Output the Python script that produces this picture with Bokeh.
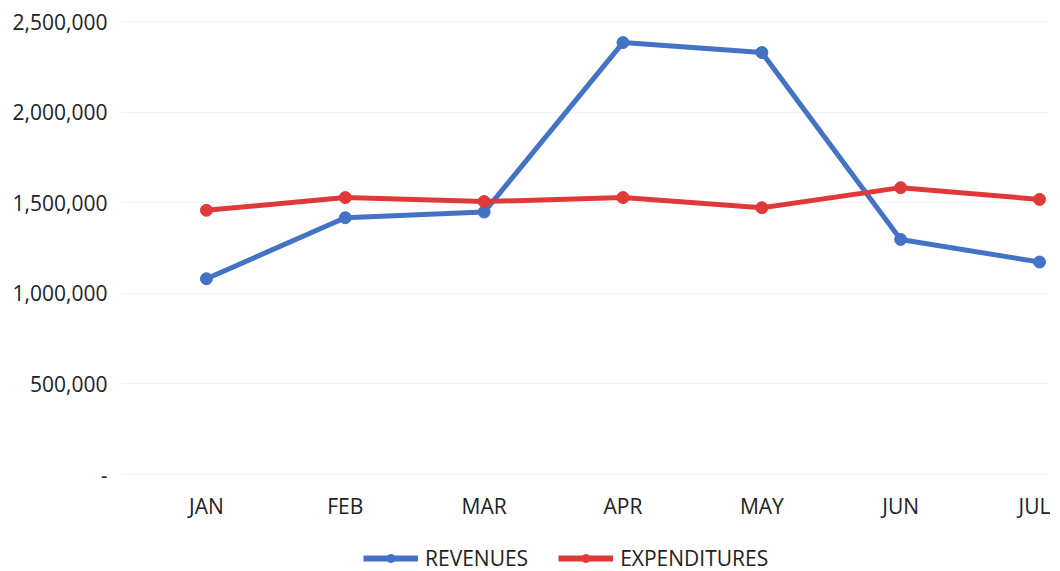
from bokeh.plotting import figure
from bokeh.models import FixedTicker, Range1d, Legend
from bokeh.layouts import column
from bokeh.embed import file_html
from bokeh.resources import INLINE

months = ["JAN", "FEB", "MAR", "APR", "MAY", "JUN", "JUL"]
revenues = [1081000, 1418000, 1449000, 2385000, 2330000, 1298000, 1173000]
expenditures = [1459000, 1529000, 1507000, 1529000, 1473000, 1584000, 1519000]
y_ticks = [0, 500000, 1000000, 1500000, 2000000, 2500000]
y_tick_labels = ["-", "500,000", "1,000,000", "1,500,000", "2,000,000", "2,500,000"]
series_names = ["REVENUES", "EXPENDITURES"]

xs = list(range(len(months)))
FONT = "Open Sans"
BLUE = "#4472C4"
RED = "#E0393A"
TEXT = "#222222"

p = figure(width=1050, height=530, output_backend="svg", toolbar_location=None,
           x_range=Range1d(-0.619, 6.079), y_range=Range1d(-33000, 2540000),
           min_border_left=120, min_border_right=0, min_border_top=14, min_border_bottom=50)
p.outline_line_color = None
p.background_fill_color = "white"
p.border_fill_color = "white"

p.xaxis.ticker = FixedTicker(ticks=xs)
p.xaxis.major_label_overrides = {i: m for i, m in zip(xs, months)}
p.yaxis.ticker = FixedTicker(ticks=y_ticks)
p.yaxis.major_label_overrides = {t: l for t, l in zip(y_ticks, y_tick_labels)}
for ax in (p.xaxis, p.yaxis):
    ax.axis_line_color = None
    ax.major_tick_line_color = None
    ax.minor_tick_line_color = None
    ax.major_label_text_font = FONT
    ax.major_label_text_font_size = "21px"
    ax.major_label_text_color = TEXT
p.yaxis.major_label_standoff = 7
p.xaxis.major_label_standoff = 5

p.xgrid.grid_line_color = None
p.ygrid.ticker = FixedTicker(ticks=y_ticks)
p.ygrid.grid_line_color = "#f3f3f3"
p.ygrid.grid_line_width = 1

p.line(xs, revenues, line_color=BLUE, line_width=5)
p.scatter(xs, revenues, size=12, fill_color=BLUE, line_color=BLUE)
p.line(xs, expenditures, line_color=RED, line_width=5)
p.scatter(xs, expenditures, size=12, fill_color=RED, line_color=RED)

# legend strip below the chart (its own glyphs fall outside its 0..1 ranges)
lg = figure(width=1050, height=44, output_backend="svg", toolbar_location=None,
            x_range=Range1d(0, 1), y_range=Range1d(0, 1),
            x_axis_type=None, y_axis_type=None,
            min_border_left=0, min_border_right=0, min_border_top=0, min_border_bottom=0)
lg.outline_line_color = None
lg.xgrid.visible = False
lg.ygrid.visible = False
items = []
for name, vals, col in zip(series_names, [revenues, expenditures], [BLUE, RED]):
    l = lg.line(xs, vals, line_color=col, line_width=6)
    s = lg.scatter(xs, vals, size=13, fill_color=col, line_color=col)
    items.append((name, [l, s]))
leg = Legend(items=items, orientation="horizontal", location=(243, 2))
leg.label_text_font = FONT
leg.label_text_font_size = "21px"
leg.label_text_color = TEXT
leg.glyph_width = 55
leg.glyph_height = 20
leg.label_standoff = 7
leg.spacing = 30
leg.border_line_color = None
leg.background_fill_alpha = 0
leg.padding = 4
leg.margin = 0
lg.add_layout(leg, "center")

layout = column(p, lg, spacing=0)
open("out.html", "w").write(file_html(layout, INLINE))
